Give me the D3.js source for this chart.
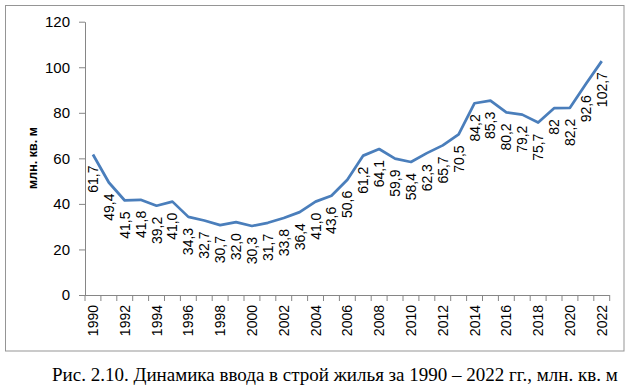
<!DOCTYPE html>
<html>
<head>
<meta charset="utf-8">
<script src="https://cdnjs.cloudflare.com/ajax/libs/d3/7.8.5/d3.min.js"></script>
<style>
  body { margin: 0; background: #fff; }
  svg text { font-family: "Liberation Sans", Arial, sans-serif; }
</style>
</head>
<body>
<div id="chart"></div>
<script>
// data
const years = d3.range(1990, 2023).map(String);
const values = [61.7, 49.4, 41.5, 41.8, 39.2, 41.0, 34.3, 32.7, 30.7, 32.0, 30.3,
                31.7, 33.8, 36.4, 41.0, 43.6, 50.6, 61.2, 64.1, 59.9, 58.4, 62.3,
                65.7, 70.5, 84.2, 85.3, 80.2, 79.2, 75.7, 82, 82.2, 92.6, 102.7];
const valueLabels = ["61,7", "49,4", "41,5", "41,8", "39,2", "41,0", "34,3", "32,7", "30,7",
                     "32,0", "30,3", "31,7", "33,8", "36,4", "41,0", "43,6", "50,6", "61,2",
                     "64,1", "59,9", "58,4", "62,3", "65,7", "70,5", "84,2", "85,3", "80,2",
                     "79,2", "75,7", "82", "82,2", "92,6", "102,7"];
const yTicks = [0, 20, 40, 60, 80, 100, 120];
const yTitle = "млн. кв. м";
const caption = "Рис. 2.10. Динамика ввода в строй жилья за 1990 – 2022 гг., млн. кв. м";

const W = 638, H = 388;
const plot = { left: 85, right: 609.7, top: 21.7, bottom: 295 };
const axisColor = "#868686";

const svg = d3.select("#chart").append("svg")
    .attr("width", W)
    .attr("height", H);

// chart frame
svg.append("rect")
   .attr("x", 5.5).attr("y", 5.5)
   .attr("width", 618.5).attr("height", 345.5)
   .attr("fill", "none")
   .attr("stroke", "#959595")
   .attr("stroke-width", 1);

const x = d3.scaleBand().domain(years).range([plot.left, plot.right]).padding(0);
const y = d3.scaleLinear().domain([0, 120]).range([plot.bottom, plot.top]);
const cx = d => x(d) + x.bandwidth() / 2;

// y axis
const yAxis = svg.append("g")
   .attr("transform", `translate(${plot.left},0)`)
   .call(d3.axisLeft(y).tickValues(yTicks).tickSize(6).tickPadding(9).tickSizeOuter(0));
yAxis.select(".domain").attr("stroke", axisColor);
yAxis.selectAll(".tick line").attr("stroke", axisColor);
yAxis.selectAll(".tick text").attr("font-size", 15).attr("fill", "#000");

// x axis: line, ticks between categories
const xg = svg.append("g");
xg.append("line")
  .attr("x1", plot.left).attr("x2", plot.right)
  .attr("y1", plot.bottom + 0.5).attr("y2", plot.bottom + 0.5)
  .attr("stroke", axisColor);
xg.selectAll("line.tk")
  .data(years.concat(["end"]))
  .enter().append("line")
  .attr("class", "tk")
  .attr("x1", d => d === "end" ? plot.right : x(d))
  .attr("x2", d => d === "end" ? plot.right : x(d))
  .attr("y1", plot.bottom)
  .attr("y2", plot.bottom + 6)
  .attr("stroke", axisColor);
xg.selectAll("text")
  .data(years.filter((d, i) => i % 2 === 0))
  .enter().append("text")
  .attr("transform", d => `translate(${cx(d) + 5},${plot.bottom + 10}) rotate(-90)`)
  .attr("text-anchor", "end")
  .attr("font-size", 14)
  .text(d => d);

// y title
svg.append("text")
   .attr("transform", "translate(37,158) rotate(-90)")
   .attr("text-anchor", "middle")
   .attr("font-size", 12.5)
   .attr("font-weight", "bold")
   .text(yTitle);

// line
const line = d3.line()
    .x((d, i) => cx(years[i]))
    .y(d => y(d));
svg.append("path")
   .datum(values)
   .attr("fill", "none")
   .attr("stroke", "#4a7ebb")
   .attr("stroke-width", 2.75)
   .attr("stroke-linejoin", "round")
   .attr("d", line);

// data labels, rotated, below points
svg.selectAll("text.lbl")
   .data(values)
   .enter().append("text")
   .attr("class", "lbl")
   .attr("transform", (d, i) => `translate(${cx(years[i]) + 5},${y(d) + 11}) rotate(-90)`)
   .attr("text-anchor", "end")
   .attr("font-size", 14)
   .text((d, i) => valueLabels[i]);

// caption
svg.append("text")
   .attr("x", 52)
   .attr("y", 381)
   .style("font-family", "'Liberation Serif', 'Times New Roman', serif")
   .attr("font-size", 19)
   .text(caption);
</script>
</body>
</html>
